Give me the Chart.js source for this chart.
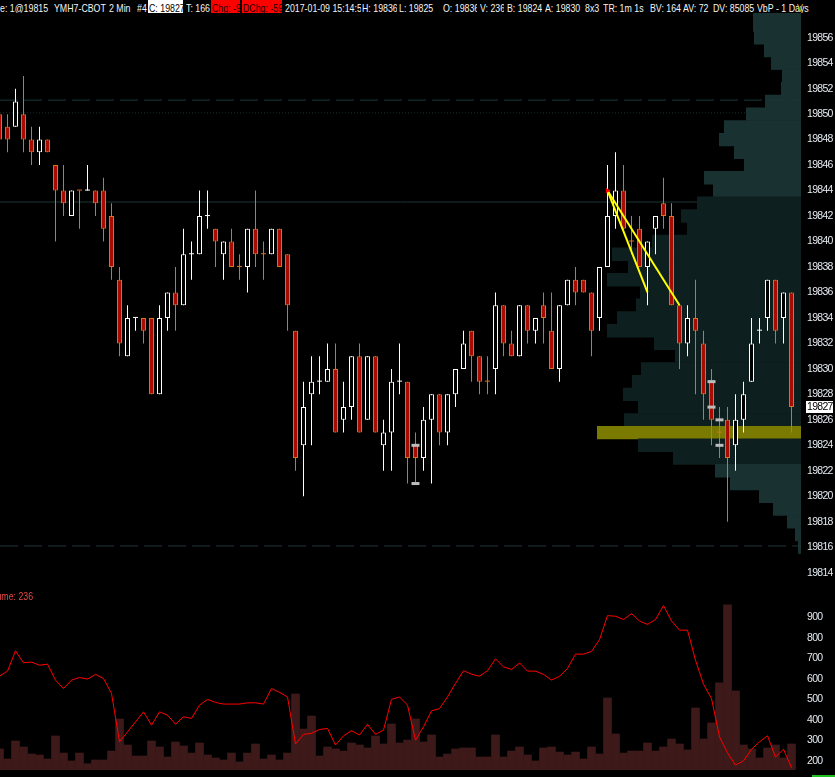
<!DOCTYPE html>
<html>
<head>
<meta charset="utf-8">
<script src="https://cdn.jsdelivr.net/npm/chart.js@4.4.1/dist/chart.umd.min.js"></script>
<style>
  html, body { margin: 0; padding: 0; background: #000; }
  body { width: 835px; height: 777px; overflow: hidden; position: relative;
         font-family: "Liberation Sans", Arial, sans-serif; font-size: 11px; }
  #head { position: absolute; left: 0; top: 0; width: 835px; height: 13px; background: #000; z-index: 3; color: #f4f4f4; }
  #head div { position: absolute; top: 0; height: 13px; line-height: 17px; white-space: nowrap; overflow: hidden; }
  #head span { display: inline-block; transform: scaleX(0.8); transform-origin: 0 0; }
  #head .w { background: #fff; color: #000; padding-left: 1px; box-sizing: border-box; }
  #head .r { background: #ff0000; color: #200000; padding-left: 1px; box-sizing: border-box; }
  #head .y { color: #d0d000; }
  #price { position: absolute; left: 0; top: 0; }
  #vol { position: absolute; left: 0; top: 586px; }
  #vlabel { position: absolute; left: 0; top: 590px; width: 33px; height: 13px; line-height: 13px;
            display: flex; justify-content: flex-end; overflow: hidden; white-space: nowrap; color: #e64a4a; z-index: 2; }
  #vlabel span { display: inline-block; transform: scaleX(0.8); transform-origin: 100% 0; }
  #green { position: absolute; left: 812px; top: 775px; width: 23px; height: 2px; background: #20c020; }
</style>
</head>
<body>
<div id="head"></div>
<canvas id="price" width="835" height="586"></canvas>
<canvas id="vol" width="835" height="191"></canvas>
<div id="vlabel"><span>Volume: 236</span></div>
<div id="green"></div>
<script>
// 2 min bars, YMH7
const opens  = [19850,19849,19849,19850,19848,19847,19848,19846,19844,19842,
                19844,19844,19844,19844,19842,19837,19831,19834,19834,19834,
                19828,19834,19836,19835,19839,19839,19842,19841,19839,19840,
                19838,19838,19841,19839,19839,19841,19839,19833,19824,19828,
                19829,19829,19830,19826,19827,19831,19826,19831,19824,19825,
                19829,19829,19824,19823,19826,19828,19825,19828,19830,19833,
                19831,19829,19830,19835,19832,19831,19835,19833,19835,19833,
                19830,19835,19837,19837,19836,19834,19838,19842,19844,19840,
                19841,19838,19841,19843,19842,19835,19832,19834,19832,19829,
                19825,19826,19824,19826,19829,19833,19834,19837,19834,19836];
const highs  = [19850,19850,19852,19853,19849,19849,19848,19846,19846,19844,
                19844,19846,19844,19845,19843,19838,19835,19834,19834,19834,
                19835,19836,19838,19841,19840,19844,19844,19841,19840,19841,
                19839,19841,19844,19840,19841,19841,19839,19833,19829,19831,
                19831,19832,19832,19829,19831,19832,19831,19831,19826,19830,
                19832,19829,19825,19827,19828,19828,19828,19830,19833,19833,
                19831,19831,19836,19835,19833,19835,19835,19834,19836,19836,
                19835,19837,19838,19837,19836,19838,19846,19847,19846,19842,
                19842,19840,19842,19845,19843,19835,19835,19837,19833,19830,
                19827,19827,19828,19829,19834,19834,19837,19837,19836,19836];
const lows   = [19848,19847,19849,19847,19846,19846,19847,19840,19842,19842,
                19841,19844,19842,19840,19837,19831,19831,19833,19832,19828,
                19828,19833,19833,19835,19837,19839,19841,19838,19837,19838,
                19837,19836,19838,19837,19839,19838,19833,19822,19820,19824,
                19828,19829,19825,19825,19826,19825,19826,19825,19822,19822,
                19828,19821,19821,19822,19821,19824,19824,19827,19830,19829,
                19828,19828,19828,19831,19831,19831,19832,19832,19832,19830,
                19829,19835,19835,19836,19831,19833,19838,19841,19841,19839,
                19838,19835,19839,19841,19835,19830,19831,19828,19826,19824,
                19823,19818,19822,19825,19829,19832,19833,19832,19832,19825];
const closes = [19848,19848,19851,19848,19847,19848,19847,19844,19843,19844,
                19844,19844,19843,19841,19838,19832,19834,19834,19833,19828,
                19834,19836,19835,19839,19839,19842,19842,19840,19840,19838,
                19838,19841,19839,19839,19841,19838,19835,19823,19827,19829,
                19829,19830,19825,19827,19831,19825,19831,19825,19825,19829,
                19829,19823,19823,19826,19828,19825,19828,19830,19832,19831,
                19829,19829,19835,19832,19831,19835,19833,19834,19834,19830,
                19835,19837,19836,19836,19833,19838,19842,19844,19841,19840,
                19838,19840,19842,19842,19835,19832,19834,19833,19828,19826,
                19825,19823,19826,19828,19832,19833,19837,19833,19836,19827];
// dojis printed with the down colour
const dojiDown = [10, 30, 33, 61, 79, 90];

const volumes = [191,100,263,209,145,136,100,309,154,82,
                 154,57,91,91,172,463,227,127,127,263,
                 209,118,254,218,154,245,136,109,91,154,
                 73,154,236,100,136,91,154,690,372,490,
                 127,209,191,172,245,227,200,309,236,418,
                 245,272,463,254,318,118,145,191,200,200,
                 118,118,318,118,172,209,136,82,200,209,
                 163,136,163,100,209,145,654,327,154,172,
                 172,245,172,209,281,236,182,563,281,427,
                 790,1498,717,227,191,109,200,227,109,236];
// red indicator line of the lower panel
const indicator = [614,638,737,679,682,667,672,594,553,594,
                   607,599,622,602,529,293,341,390,439,374,
                   439,423,379,415,407,472,500,485,477,477,
                   477,483,483,477,553,534,512,282,329,334,
                   353,358,277,322,347,326,378,329,350,500,
                   512,472,301,366,444,455,512,578,640,623,
                   613,640,698,659,646,678,638,638,622,594,
                   613,651,721,721,734,792,909,906,890,919,
                   883,866,890,958,883,838,838,691,574,504,
                   317,239,179,200,256,293,322,218,256,166];

// volume by price, 1 day
const profilePrices = [19858,19857,19856,19855,19854,19853,19852,19851,19850,19849,19848,19847,19846,19845,
                       19844,19843,19842,19841,19840,19839,19838,19837,19836,19835,19834,19833,19832,19831,
                       19830,19829,19828,19827,19826,19825,19824,19823,19822,19821,19820,19819,19818,19817,19816];
const profileVol = [912,912,893,703,570,361,380,684,1045,1463,1558,1273,1083,1843,
                    1672,1976,2280,2166,2831,3591,3287,3686,3059,3135,3496,3686,2793,2394,
                    3040,3211,3382,3097,3363,3876,3097,2432,1634,1349,798,532,266,114,57];
const valueAreaLow = 19823, valueAreaHigh = 19843;

const levels = [19851.1, 19850.1, 19843.1, 19816.1];
const trendA = [[76, 19844], [81, 19836]];
const trendB = [[76, 19844], [85, 19835]];
const markerIdx = [52, 52, 89, 89, 90, 90];
const markerPrice = [19824, 19821, 19829, 19827, 19826, 19824];

const priceTicks = [];
for (let p = 19814; p <= 19856; p += 2) priceTicks.push(p);
const volTicks = [200, 300, 400, 500, 600, 700, 800, 900];

const FONT = '"Liberation Sans", Arial, sans-serif';
const X_MIN = 0.0625, X_MAX = 100.1875;
const idx = opens.map((_, i) => i);
const isDoji = i => opens[i] === closes[i];
const isUp = i => closes[i] > opens[i] || (isDoji(i) && !dojiDown.includes(i));
const WICK_UP = '#ffffff', WICK_DN = '#d8701c', FILL_DN = '#a80c00';

// header
const header = [
  [0, 0, 'e: 1@19815'], [54, 0, 'YMH7-CBOT'], [109, 0, '2 Min'], [137, 0, '#4'],
  [148, 35, 'C: 19827', 'w'], [186, 24, 'T: 166'], [211, 29, 'Chg: -9', 'r'], [242, 40, 'DChg: -59', 'r'],
  [285, 76, '2017-01-09 15:14:59'], [362, 35, 'H: 19836'], [399, 42, 'L: 19825'], [443, 34, 'O: 19836'],
  [480, 24, 'V: 236'], [507, 36, 'B: 19824'], [545, 37, 'A: 19830'], [585, 0, '8x3'], [603, 43, 'TR: 1m 1s'],
  [650, 0, 'BV: 164'], [683, 0, 'AV: 72'], [713, 0, 'DV: 85085'], [757, 0, 'VbP - 1 Days'], [797, 0, 'V', 'y']
];
const head = document.getElementById('head');
header.forEach(([l, w, t, cls]) => {
  const d = document.createElement('div');
  d.style.left = l + 'px';
  if (w) d.style.width = w + 'px';
  if (cls) d.className = cls;
  const s = document.createElement('span');
  s.textContent = t;
  d.appendChild(s);
  head.appendChild(d);
});

const axisOpts = (ticks) => ({
  type: 'linear', position: 'right', offset: false,
  grid: { display: false, drawTicks: false }, border: { display: false },
  ticks: { color: '#e4eaf0', padding: 6, font: { family: FONT, size: 10.5 }, callback: v => String(v) },
  afterBuildTicks: s => { s.ticks = ticks.map(v => ({ value: v })); },
  afterFit: s => { s.width = 34; s.paddingTop = 0; s.paddingBottom = 0; }
});

// narrow glyph spacing like the terminal font
const narrow = {
  id: 'narrow',
  beforeDraw(chart) { chart.ctx.letterSpacing = '-0.7px'; }
};

const lastBox = {
  id: 'lastBox',
  afterDraw(chart) {
    const last = closes[closes.length - 1];
    const y = Math.round(chart.scales.y.getPixelForValue(last));
    const x = chart.chartArea.right + 5;
    const ctx = chart.ctx;
    ctx.save();
    ctx.fillStyle = '#ffffff';
    ctx.fillRect(x, y - 6, 27, 12);
    ctx.fillStyle = '#000000';
    ctx.font = '10.5px ' + FONT;
    ctx.letterSpacing = '-0.7px';
    ctx.textBaseline = 'middle';
    ctx.fillText(String(last), x + 1, y + 0.5);
    ctx.restore();
  }
};

const levelStyle = [
  { color: '#1c3838', dash: [18, 6], order: 7 },
  { color: '#183030', dash: [1, 2], order: 7 },
  { color: '#1a3636', dash: [], order: 11 },
  { color: '#1c3838', dash: [18, 6], order: 7 }
];

const priceDatasets = [
  {
    type: 'bar', indexAxis: 'y', xAxisID: 'xp', yAxisID: 'y', order: 10,
    data: profilePrices.map((p, i) => ({ x: profileVol[i], y: p })),
    backgroundColor: profilePrices.map((p, i) =>
      profileVol[i] === Math.max(...profileVol) ? '#7a7a00' :
      (p >= valueAreaLow && p <= valueAreaHigh ? '#0e1f1f' : '#1a3131')),
    barThickness: 13.4, grouped: false, borderWidth: 0, inflateAmount: 0
  },
  {
    type: 'bar', xAxisID: 'x', yAxisID: 'y', order: 5,
    data: idx.map(i => ({ x: i, y: [lows[i], highs[i]] })),
    backgroundColor: idx.map(i => isUp(i) ? WICK_UP : WICK_DN),
    barThickness: 1, grouped: false, borderWidth: 0, inflateAmount: 0
  },
  {
    type: 'bar', xAxisID: 'x', yAxisID: 'y', order: 4,
    data: idx.map(i => ({ x: i, y: [Math.min(opens[i], closes[i]), Math.max(opens[i], closes[i])] })),
    backgroundColor: idx.map(i => isDoji(i) ? (isUp(i) ? WICK_UP : WICK_DN) : (isUp(i) ? '#000000' : FILL_DN)),
    borderColor: idx.map(i => isUp(i) ? WICK_UP : WICK_DN),
    borderWidth: idx.map(i => isDoji(i) ? 0 : 1),
    borderSkipped: false, minBarLength: 1,
    barThickness: 5, grouped: false, inflateAmount: 0
  },
  ...levels.map((lv, i) => ({
    type: 'line', xAxisID: 'x', yAxisID: 'y', order: levelStyle[i].order,
    data: [{ x: X_MIN, y: lv }, { x: X_MAX, y: lv }],
    borderColor: levelStyle[i].color, borderDash: levelStyle[i].dash,
    borderWidth: 1, pointRadius: 0
  })),
  ...[trendA, trendB].map((t, j) => ({
    type: 'line', xAxisID: 'x', yAxisID: 'y', order: 1,
    data: t.map(([x, y]) => ({ x, y })),
    borderColor: '#ffff00', borderWidth: 2,
    pointRadius: j === 0 ? [3, 0] : 0, pointStyle: 'triangle', rotation: 90,
    pointBackgroundColor: '#ff0000', pointBorderWidth: 0
  })),
  {
    type: 'line', xAxisID: 'x', yAxisID: 'y', order: 0, showLine: false,
    data: markerIdx.map((x, i) => ({ x, y: markerPrice[i] })),
    pointStyle: 'line', pointRadius: 4, pointBorderWidth: 3, pointBorderColor: '#bdbdbd'
  }
];

new Chart(document.getElementById('price'), {
  type: 'bar',
  data: { datasets: priceDatasets },
  options: {
    responsive: false, animation: false, events: [],
    layout: { padding: 0, autoPadding: false },
    plugins: { legend: { display: false }, tooltip: { enabled: false } },
    scales: {
      x: { type: 'linear', min: X_MIN, max: X_MAX, display: false, offset: false },
      xp: { type: 'linear', axis: 'x', reverse: true, min: 0, max: 15219, display: false, offset: false },
      y: Object.assign(axisOpts(priceTicks), { min: 19812.956, max: 19858.96 })
    }
  },
  plugins: [narrow, lastBox]
});

new Chart(document.getElementById('vol'), {
  type: 'bar',
  data: {
    datasets: [
      {
        type: 'line', xAxisID: 'x', yAxisID: 'y', order: 1,
        data: idx.map(i => ({ x: i, y: indicator[i] })),
        borderColor: '#ff0000', borderWidth: 1, pointRadius: 0, tension: 0
      },
      {
        type: 'bar', xAxisID: 'x', yAxisID: 'yv', order: 2,
        data: idx.map(i => ({ x: i, y: volumes[i] })),
        backgroundColor: '#3d1919', barThickness: 8, grouped: false, borderWidth: 0
      }
    ]
  },
  options: {
    responsive: false, animation: false, events: [],
    layout: { padding: { top: 11, bottom: 7 }, autoPadding: false },
    plugins: { legend: { display: false }, tooltip: { enabled: false } },
    scales: {
      x: { type: 'linear', min: X_MIN, max: X_MAX, display: false, offset: false },
      yv: { type: 'linear', axis: 'y', min: 0, max: 1570, display: false },
      y: Object.assign(axisOpts(volTicks), { min: 155, max: 1000 })
    }
  },
  plugins: [narrow]
});
</script>
</body>
</html>
